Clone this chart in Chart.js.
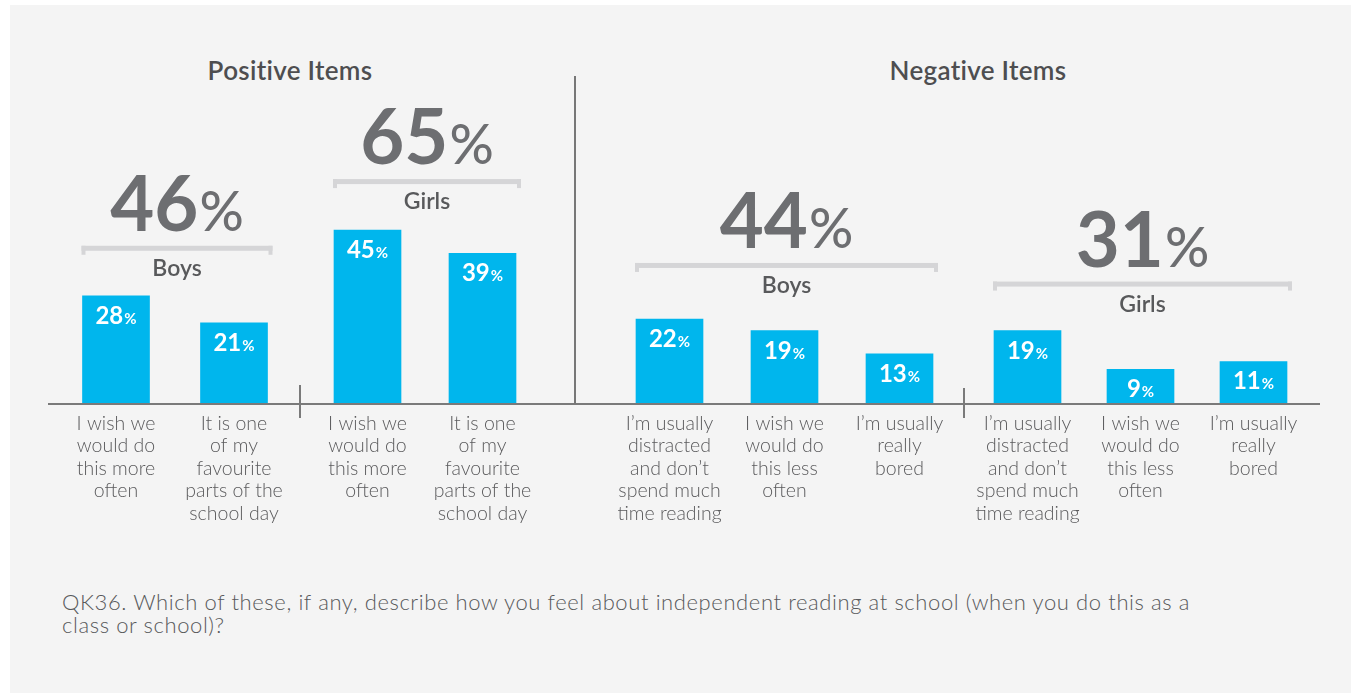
<!DOCTYPE html>
<html>
<head>
<meta charset="utf-8">
<script src="https://cdn.jsdelivr.net/npm/chart.js@4/dist/chart.umd.min.js"></script>
<style>
  html, body { margin: 0; padding: 0; background: #ffffff; width: 1351px; height: 693px; overflow: hidden; }
  #panel { position: absolute; left: 10px; top: 5px; width: 1341px; height: 688px; background: #f4f4f4; }
  .title { position: absolute; top: 54px; width: 300px; text-align: center; font: 600 26px Lato, "Open Sans", sans-serif; color: #4e4e50; letter-spacing: 0.3px; }
  .line { position: absolute; background: #7a7a7a; }
  canvas { position: absolute; }
  #note { position: absolute; left: 62px; top: 590px; font: 300 22px Lato, "Open Sans", sans-serif; line-height: 23px; letter-spacing: 0.6px; color: #58595b; white-space: nowrap; }
</style>
</head>
<body>
<div id="panel"></div>
<div class="title" style="left:140px;">Positive Items</div>
<div class="title" style="left:828px;">Negative Items</div>
<canvas id="c1" width="326" height="474" style="left:12px;top:60px;"></canvas>
<canvas id="c2" width="320" height="474" style="left:265px;top:60px;"></canvas>
<canvas id="c3" width="435" height="474" style="left:567px;top:60px;"></canvas>
<canvas id="c4" width="429" height="474" style="left:926px;top:60px;"></canvas>
<div class="line" style="left:48px;top:403px;width:1272px;height:2px;"></div>
<div class="line" style="left:574px;top:76px;width:2px;height:328px;background:#777;"></div>
<div class="line" style="left:299px;top:385px;width:2px;height:33px;"></div>
<div class="line" style="left:963px;top:388px;width:2px;height:30px;"></div>
<div id="note">QK36. Which of these, if any, describe how you feel about independent reading at school (when you do this as a<br>class or school)?</div>
<script>
// ---- data ----
const positiveItems = [
  ['I wish we', 'would do', 'this more', 'often'],
  ['It is one', 'of my', 'favourite', 'parts of the', 'school day']
];
const negativeItems = [
  ['I\u2019m usually', 'distracted', 'and don\u2019t', 'spend much', 'time reading'],
  ['I wish we', 'would do', 'this less', 'often'],
  ['I\u2019m usually', 'really', 'bored']
];
const groupNames = ['Boys', 'Girls', 'Boys', 'Girls'];
const groupTotals = [46, 65, 44, 31];
const positiveBoys = [28, 21];
const positiveGirls = [45, 39];
const negativeBoys = [22, 19, 13];
const negativeGirls = [19, 9, 11];

// ---- styling ----
const FONT = 'Lato, "Open Sans", sans-serif';
const BAR_COLOR = '#00b6ed';
const Y_MAX = 89;

function drawPct(ctx, num, cx, baseline, f1, f2, color) {
  ctx.font = f1;
  const w1 = ctx.measureText(num).width;
  ctx.font = f2;
  const w2 = ctx.measureText('%').width;
  const x0 = cx - (w1 + w2 + 1) / 2;
  ctx.fillStyle = color;
  ctx.textAlign = 'left';
  ctx.textBaseline = 'alphabetic';
  ctx.font = f1;
  ctx.fillText(num, x0, baseline);
  ctx.font = f2;
  ctx.fillText('%', x0 + w1 + 1, baseline);
}

const groupPlugin = {
  id: 'groupLabels',
  afterDatasetsDraw(chart) {
    const o = chart.options.plugins.groupLabels;
    const ctx = chart.ctx;
    const bars = chart.getDatasetMeta(0).data;
    const vals = chart.data.datasets[0].data;
    ctx.save();
    bars.forEach((b, i) => {
      drawPct(ctx, String(vals[i]), b.x, b.y + 28, '700 24px ' + FONT, '700 15px ' + FONT, '#ffffff');
    });
    const top = Math.min(...bars.map(b => b.y)) - o.lift;
    const first = bars[0], last = bars[bars.length - 1];
    const left = first.x - first.width / 2 - 1;
    const right = last.x + last.width / 2 + 5;
    const cx = (left + right) / 2;
    ctx.fillStyle = '#d5d5d7';
    ctx.fillRect(left, top - 50, right - left, 5);
    ctx.fillRect(left, top - 50, 4, 9);
    ctx.fillRect(right - 4, top - 50, 4, 9);
    ctx.fillStyle = '#58595b';
    ctx.font = '600 23px ' + FONT;
    ctx.textAlign = 'center';
    ctx.textBaseline = 'middle';
    ctx.fillText(o.name, cx, top - 27);
    drawPct(ctx, String(o.total), cx, top - 65, '700 76px ' + FONT, '500 55px ' + FONT, '#6d6e71');
    ctx.restore();
  }
};

function makeChart(id, labels, values, name, total, lift) {
  return new Chart(document.getElementById(id), {
    type: 'bar',
    data: {
      labels: labels,
      datasets: [{ data: values, backgroundColor: BAR_COLOR, barThickness: 67, borderWidth: 0 }]
    },
    options: {
      responsive: false,
      animation: false,
      events: [],
      layout: { padding: { left: 45, right: 45, top: 0, bottom: 0 } },
      plugins: {
        legend: { display: false },
        tooltip: { enabled: false },
        groupLabels: { name: name, total: total, lift: lift }
      },
      scales: {
        x: {
          grid: { display: false, drawTicks: false },
          border: { display: false },
          ticks: {
            autoSkip: false,
            maxRotation: 0,
            padding: 8,
            color: '#5a5a5c',
            font: { family: FONT, size: 19.5, weight: '300', lineHeight: 1.16 }
          },
          afterFit(scale) { scale.height = 130; }
        },
        y: { display: false, min: 0, max: Y_MAX }
      }
    },
    plugins: [groupPlugin]
  });
}

makeChart('c1', positiveItems, positiveBoys, groupNames[0], groupTotals[0], 0);
makeChart('c2', positiveItems, positiveGirls, groupNames[1], groupTotals[1], 1);
makeChart('c3', negativeItems, negativeBoys, groupNames[2], groupTotals[2], 6);
makeChart('c4', negativeItems, negativeGirls, groupNames[3], groupTotals[3], -1);
</script>
</body>
</html>
